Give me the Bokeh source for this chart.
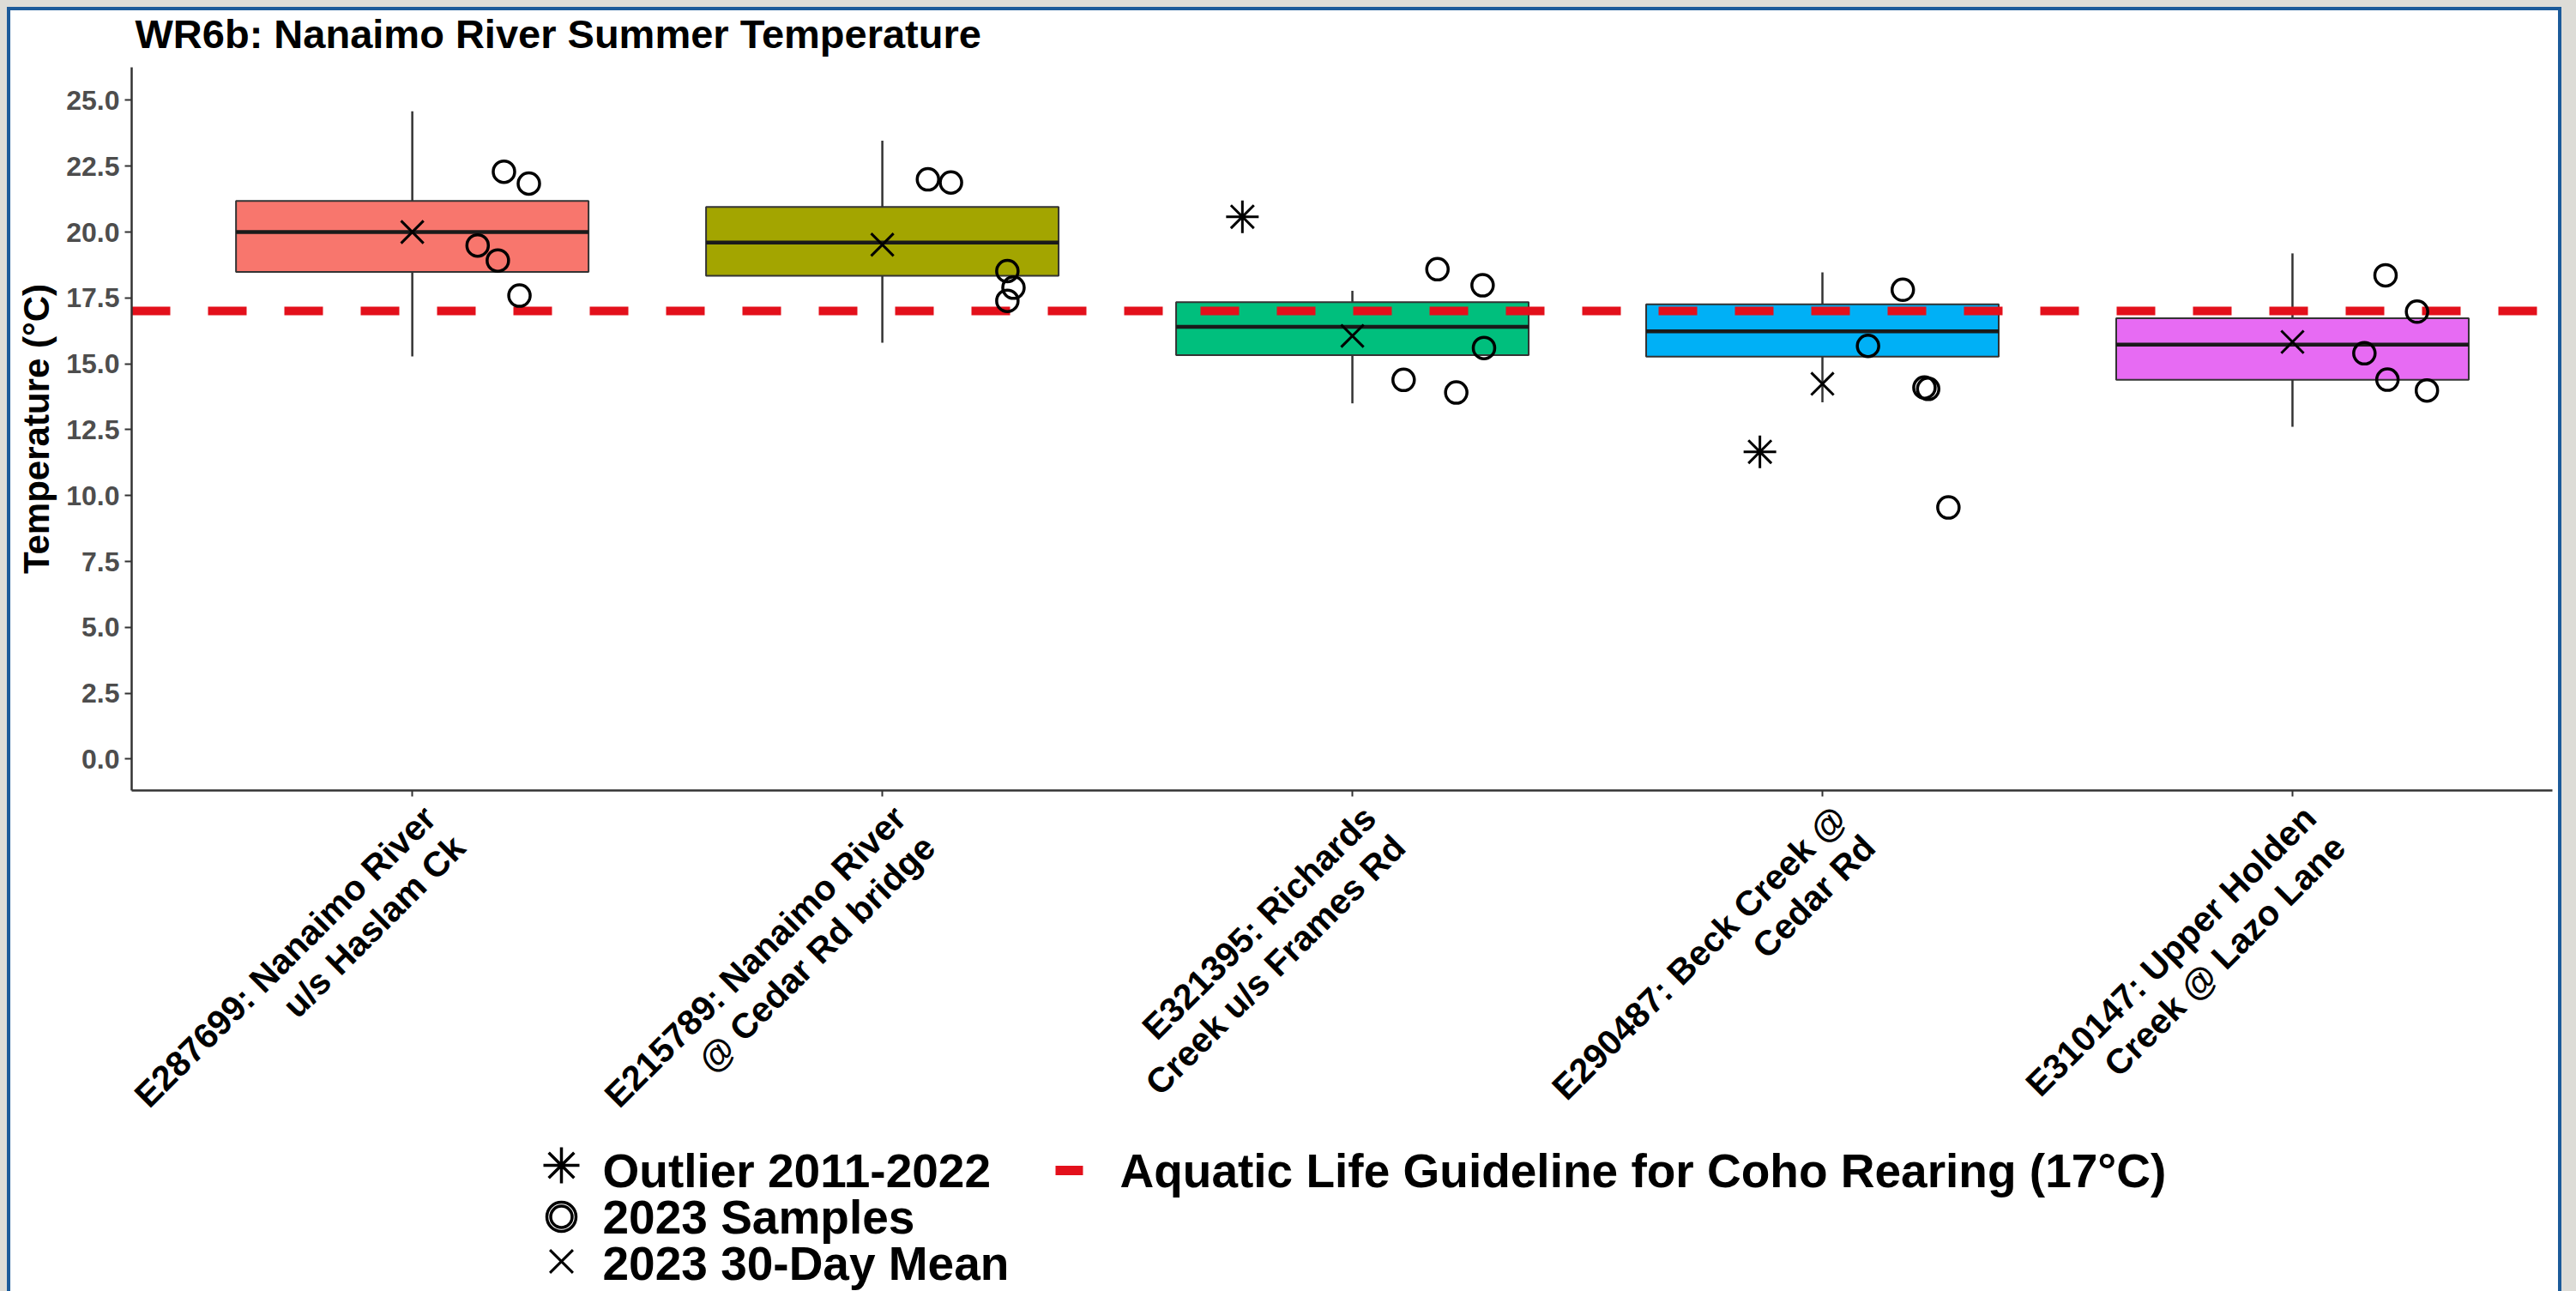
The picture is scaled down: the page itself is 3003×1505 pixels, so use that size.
import math
from bokeh.plotting import figure
from bokeh.models import Range1d, FixedTicker, NumeralTickFormatter, GlobalInlineStyleSheet
from bokeh.layouts import column
from bokeh.core.properties import value
from bokeh.embed import file_html
from bokeh.resources import INLINE

# ---------------- data ----------------
title_text = "WR6b: Nanaimo River Summer Temperature"
sites = [
    "E287699: Nanaimo River\nu/s Haslam Ck",
    "E215789: Nanaimo River\n@ Cedar Rd bridge",
    "E321395: Richards\nCreek u/s Frames Rd",
    "E290487: Beck Creek @\nCedar Rd",
    "E310147: Upper Holden\nCreek @ Lazo Lane",
]
box_colors = ["#F8766D", "#A3A500", "#00BF7D", "#00B0F6", "#E76BF3"]

whisker_low = [15.28, 15.80, 13.50, 13.54, 12.61]
q1 = [18.49, 18.34, 15.33, 15.27, 14.39]
median = [20.00, 19.60, 16.40, 16.23, 15.73]
q3 = [21.18, 20.95, 17.34, 17.26, 16.73]
whisker_high = [24.58, 23.47, 17.77, 18.47, 19.19]
mean_30day = [20.00, 19.52, 16.06, 14.24, 15.83]

outlier_site = [3, 4]
outlier_value = [20.58, 11.66]
outlier_jitter = [-0.234, -0.133]

samples_2023 = [
    [22.29, 21.84, 19.49, 18.92, 17.59],
    [22.00, 21.88, 18.52, 17.89, 17.39],
    [18.59, 17.98, 15.60, 14.39, 13.91],
    [17.81, 15.68, 14.10, 14.05, 9.55],
    [18.36, 16.98, 15.40, 14.40, 13.99],
]
sample_jitter = [
    [0.195, 0.248, 0.139, 0.182, 0.228],
    [0.097, 0.146, 0.266, 0.279, 0.266],
    [0.181, 0.277, 0.280, 0.109, 0.221],
    [0.171, 0.097, 0.217, 0.225, 0.268],
    [0.198, 0.265, 0.153, 0.202, 0.286],
]
guideline = 17.0
y_ticks = [0, 2.5, 5, 7.5, 10, 12.5, 15, 17.5, 20, 22.5, 25]

legend_labels = ["Outlier 2011-2022", "2023 Samples", "2023 30-Day Mean",
                 "Aquatic Life Guideline for Coho Rearing (17\u00b0C)"]

# ---------------- layout / styling constants ----------------
FONT = "Liberation Sans"
RED = "#E3101B"
DARK = "#333333"
BOX_W = 0.75

W = 2970
B_LEFT, B_RIGHT = 141, 7
H_HEAD = 66
FRAME_H = 843
B_BOTTOM = 9
H_MAIN = FRAME_H + B_BOTTOM
H_BOT = 1493 - H_HEAD - H_MAIN
X0, X1 = 0.403, 5.553
Y0, Y1 = -1.19, 26.25

xpos = list(range(1, len(sites) + 1))
x_range = Range1d(X0, X1)


def blank(fig):
    fig.xgrid.visible = False
    fig.ygrid.visible = False
    fig.outline_line_color = None
    fig.border_fill_color = "white"
    fig.background_fill_color = "white"


# ---------------- header (title) ----------------
hd = figure(width=W, height=H_HEAD, x_range=Range1d(B_LEFT, W - B_RIGHT),
            y_range=Range1d(H_HEAD, 0), output_backend="svg", toolbar_location=None,
            x_axis_type=None, y_axis_type=None,
            min_border_left=B_LEFT, min_border_right=B_RIGHT,
            min_border_top=0, min_border_bottom=0)
blank(hd)
hd.text(x=[B_LEFT + 4], y=[27], text=[title_text], text_font=value(FONT),
        text_font_style="bold", text_font_size="47px", text_baseline="middle",
        text_color="black")

# ---------------- main plot ----------------
p = figure(width=W, height=H_MAIN, x_range=x_range, y_range=Range1d(Y0, Y1),
           output_backend="svg", toolbar_location=None,
           min_border_left=B_LEFT, min_border_right=B_RIGHT,
           min_border_top=0, min_border_bottom=B_BOTTOM)
blank(p)

# whiskers
p.segment(x0=xpos, y0=whisker_low, x1=xpos, y1=whisker_high,
          line_color=DARK, line_width=2.5)
# boxes
p.vbar(x=xpos, width=BOX_W, bottom=q1, top=q3, fill_color=box_colors,
       line_color=DARK, line_width=2)
# medians
p.segment(x0=[x - BOX_W / 2 for x in xpos], y0=median,
          x1=[x + BOX_W / 2 for x in xpos], y1=median,
          line_color="#1a1a1a", line_width=4.5)
# guideline
p.hspan(y=[guideline], line_color=RED, line_width=10, line_dash="45 44")
# outliers
p.scatter(x=[s + j for s, j in zip(outlier_site, outlier_jitter)], y=outlier_value,
          marker="asterisk", size=38, line_color="black", line_width=3)
# 30-day means
p.scatter(x=xpos, y=mean_30day, marker="x", size=37, line_color="black", line_width=3)
# samples
sx, sy = [], []
for i, (vals, jit) in enumerate(zip(samples_2023, sample_jitter)):
    for v, j in zip(vals, jit):
        sx.append(xpos[i] + j)
        sy.append(v)
p.scatter(x=sx, y=sy, marker="circle", size=25, fill_alpha=0,
          line_color="black", line_width=3.5)

for ax in (p.xaxis, p.yaxis):
    ax.axis_line_color = DARK
    ax.axis_line_width = 2.5
    ax.major_tick_line_color = DARK
    ax.major_tick_line_width = 2
    ax.major_tick_in = 0
    ax.minor_tick_line_color = None

p.yaxis.ticker = FixedTicker(ticks=y_ticks)
p.yaxis.formatter = NumeralTickFormatter(format="0.0")
p.yaxis.major_tick_out = 8
p.yaxis.major_label_text_font = FONT
p.yaxis.major_label_text_font_style = "bold"
p.yaxis.major_label_text_font_size = "32px"
p.yaxis.major_label_text_color = "#4D4D4D"
p.yaxis.major_label_standoff = 6
p.yaxis.axis_label = "Temperature (\u00b0C)"
p.yaxis.axis_label_text_font = FONT
p.yaxis.axis_label_text_font_style = "bold"
p.yaxis.axis_label_text_font_size = "42px"
p.yaxis.axis_label_text_color = "black"
p.yaxis.axis_label_standoff = 8

# x axis: line and ticks only; the rotated site names are drawn below
p.xaxis.ticker = FixedTicker(ticks=xpos)
p.xaxis.major_tick_out = 7
p.xaxis.major_label_standoff = 0
p.xaxis.major_label_text_font_size = "1px"
p.xaxis.major_label_text_color = None

# ---------------- site labels + legend ----------------
bt = figure(width=W, height=H_BOT, x_range=x_range, y_range=Range1d(H_BOT, 0),
            extra_x_ranges={"px": Range1d(B_LEFT, W - B_RIGHT)},
            output_backend="svg", toolbar_location=None,
            x_axis_type=None, y_axis_type=None,
            min_border_left=B_LEFT, min_border_right=B_RIGHT,
            min_border_top=0, min_border_bottom=0)
blank(bt)

px_per_x = (W - B_LEFT - B_RIGHT) / (X1 - X0)
lab_dx = 4 / px_per_x
bt.text(x=[x + lab_dx for x in xpos], y=[0] * len(xpos), text=sites, angle=math.pi / 4,
        text_align="right", text_baseline="top", text_font=value(FONT),
        text_font_style="bold", text_font_size="41px", text_line_height=1.05,
        text_color="black")

sym_x = 642
txt_x = 690
rows = [434, 488, 542]
bt.scatter(x=[sym_x], y=[rows[0] - 6], marker="asterisk", size=42, line_color="black",
           line_width=3.5, x_range_name="px")
bt.scatter(x=[sym_x, sym_x], y=[rows[1], rows[1]], marker="circle", size=[34, 25],
           fill_alpha=0, line_color="black", line_width=3.5, x_range_name="px")
bt.scatter(x=[sym_x], y=[rows[2] - 2], marker="x", size=38, line_color="black",
           line_width=3, x_range_name="px")
bt.text(x=[txt_x] * 3, y=rows, text=legend_labels[:3], text_font=value(FONT),
        text_font_style="bold", text_font_size="55px", text_baseline="middle",
        text_color="black", x_range_name="px")
bt.segment(x0=[1218], y0=[rows[0]], x1=[1250], y1=[rows[0]], line_color=RED,
           line_width=11, x_range_name="px")
bt.text(x=[1293], y=[rows[0]], text=legend_labels[3:], text_font=value(FONT),
        text_font_style="bold", text_font_size="55px", text_baseline="middle",
        text_color="black", x_range_name="px")

layout = column(hd, p, bt,
                styles={"border-style": "solid solid none solid",
                        "border-width": "4px", "border-color": "#1B5A9A",
                        "background-color": "white"},
                stylesheets=[GlobalInlineStyleSheet(
                    css="body { background-color: #DDDCD7; padding: 8px 17px 0 8px; }")])

open("out.html", "w").write(file_html(layout, INLINE))
